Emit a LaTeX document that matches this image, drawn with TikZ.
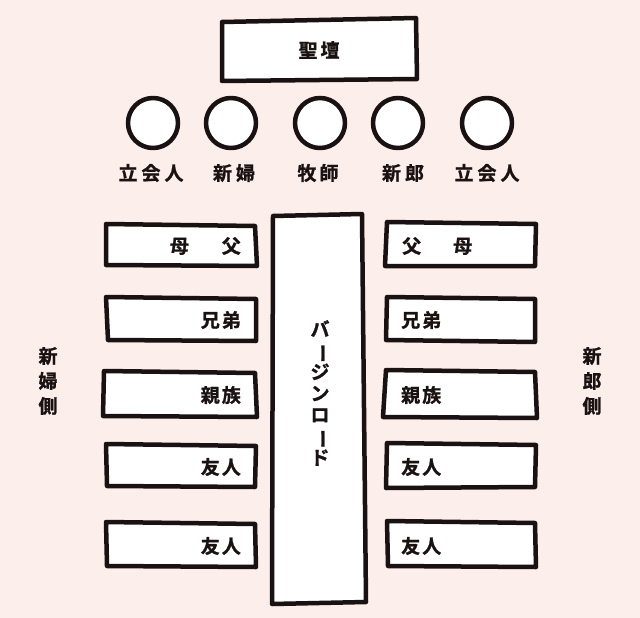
\documentclass[tikz,border=0pt]{standalone}
\usepackage{fontspec}
\setmainfont{Noto Sans CJK JP Bold}[FakeBold=1.2]
\definecolor{bgpink}{HTML}{FCEEEA}
\definecolor{ink}{HTML}{1A1212}
\begin{document}
\begin{tikzpicture}[x=1pt,y=-1pt,
  hand/.style={draw=ink,fill=white,line width=4.5pt,line join=round,line cap=round},
  lbl/.style={inner sep=0pt,font=\fontsize{19}{22}\selectfont,text=ink},
  vlbl/.style={inner sep=0pt,font=\fontsize{19}{25}\selectfont,text=ink,align=center},
  alabel/.style={inner sep=0pt,font=\fontsize{19}{21.4}\selectfont,text=ink,align=center}]
\fill[bgpink] (0,0) rectangle (640,618);
\useasboundingbox (0,0) rectangle (640,618);
% altar
\draw[hand] (222,22) -- (416,18) -- (417,79) -- (222,81) -- cycle;
\node[lbl] (altar) at (319,50) {聖\kern3pt 壇};
% circles
\foreach \n/\x in {c1/153,c2/231,c3/320,c4/398,c5/487}
  \draw[hand] (\x,123) circle[radius=25];
\node[lbl] (t1) at (151,173) {立\kern4pt 会\kern4pt 人};
\node[lbl] (t2) at (234,173) {新\kern4pt 婦};
\node[lbl] (t3) at (318,173) {牧\kern3pt 師};
\node[lbl] (t4) at (403,173) {新\kern4pt 郎};
\node[lbl] (t5) at (487,173) {立\kern4pt 会\kern4pt 人};
% aisle
\draw[hand] (273,216) -- (362,214) -- (366,602) -- (272,604) -- cycle;
\node[alabel] (aisle) at (320,393) {バ\\\rotatebox[origin=c]{-90}{ー}\\ジ\\ン\\ロ\\\rotatebox[origin=c]{-90}{ー}\\ド};
% left boxes
\draw[hand] (106,224) -- (255,226) -- (257,266) -- (106,265) -- cycle;
\draw[hand] (106,297) -- (256,299) -- (256,341) -- (108,340) -- cycle;
\draw[hand] (104,371) -- (255,373) -- (257,417) -- (103,416) -- cycle;
\draw[hand] (106,444) -- (256,446) -- (255,487) -- (107,486) -- cycle;
\draw[hand] (106,522) -- (255,524) -- (256,567) -- (107,566) -- cycle;
\node[lbl,anchor=east] (l1) at (241,246) {母\hspace{33pt}父};
\node[lbl,anchor=east] (l2) at (241,320) {兄\kern2pt 弟};
\node[lbl,anchor=east] (l3) at (241,395) {親\kern2pt 族};
\node[lbl,anchor=east] (l4) at (241,467) {友\kern2pt 人};
\node[lbl,anchor=east] (l5) at (241,546) {友\kern2pt 人};
% right boxes
\draw[hand] (387,222) -- (536,224) -- (535,266) -- (385,266) -- cycle;
\draw[hand] (387,297) -- (535,299) -- (535,342) -- (386,340) -- cycle;
\draw[hand] (386,370) -- (535,372) -- (537,418) -- (383,417) -- cycle;
\draw[hand] (387,443) -- (536,445) -- (535,487) -- (386,488) -- cycle;
\draw[hand] (387,521) -- (535,523) -- (536,567) -- (388,566) -- cycle;
\node[lbl,anchor=west] (r1) at (402,246) {父\hspace{32pt}母};
\node[lbl,anchor=west] (r2) at (401,320) {兄\kern2pt 弟};
\node[lbl,anchor=west] (r3) at (401,395) {親\kern2pt 族};
\node[lbl,anchor=west] (r4) at (401,467) {友\kern2pt 人};
\node[lbl,anchor=west] (r5) at (401,546) {友\kern2pt 人};
% side labels
\node[vlbl] (brideside) at (48,381) {新\\婦\\側};
\node[vlbl] (groomside) at (592,381) {新\\郎\\側};
\end{tikzpicture}
\end{document}
